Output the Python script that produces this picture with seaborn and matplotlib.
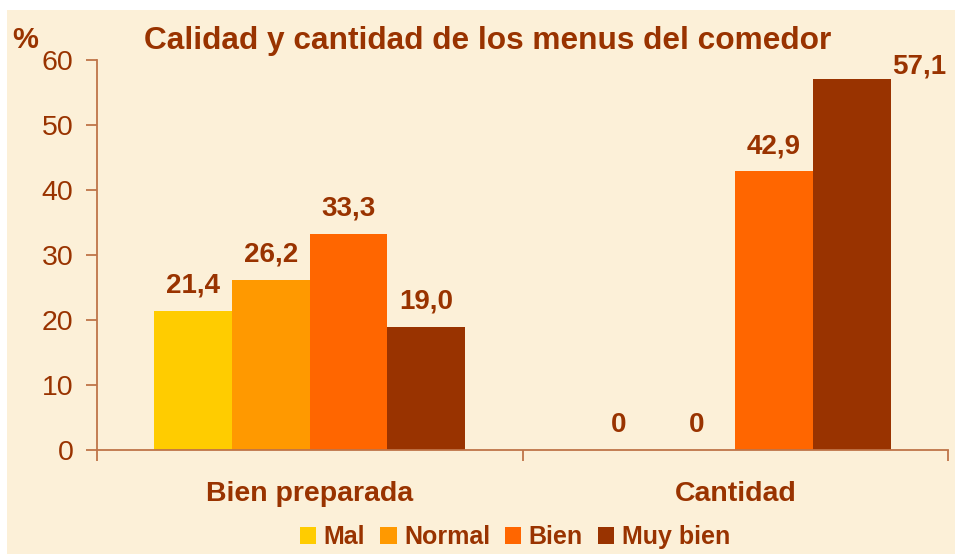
import matplotlib
matplotlib.use("Agg")
import matplotlib.pyplot as plt
import seaborn as sns
import pandas as pd
from matplotlib.patches import Rectangle

# ---- data ----
categories = ["Bien preparada", "Cantidad"]
ratings = ["Mal", "Normal", "Bien", "Muy bien"]
mal = [21.4, 0.0]
normal = [26.2, 0.0]
bien = [33.3, 42.9]
muy_bien = [19.0, 57.1]
title = "Calidad y cantidad de los menus del comedor"
y_ticks = [0, 10, 20, 30, 40, 50, 60]

colors = ["#FFCC00", "#FF9900", "#FF6600", "#993300"]
txt = "#993300"
axc = "#BF7448"
bg = "#FCF0D8"

rows = []
for r, vals in zip(ratings, [mal, normal, bien, muy_bien]):
    for c, v in zip(categories, vals):
        rows.append({"Aspecto": c, "Valoracion": r, "Porcentaje": v})
df = pd.DataFrame(rows)

sns.set_theme(style="white")
plt.rcParams["font.family"] = ["Liberation Sans", "DejaVu Sans"]

fig = plt.figure(figsize=(9.55, 5.54), dpi=100, facecolor="white")
fig.patches.append(Rectangle((7 / 955, 0), 1, (554 - 10) / 554,
                             transform=fig.transFigure, facecolor=bg,
                             edgecolor="none", zorder=-10))
ax = fig.add_axes([97 / 955, (554 - 450) / 554, (948 - 97) / 955, 390 / 554])
ax.set_facecolor("none")

sns.barplot(data=df, x="Aspecto", y="Porcentaje", hue="Valoracion",
            order=categories, hue_order=ratings, palette=colors,
            width=0.73, saturation=1, linewidth=0, edgecolor="none",
            ax=ax, legend=True)

handles, labels = ax.get_legend_handles_labels()
if ax.get_legend() is not None:
    ax.get_legend().remove()

ax.set_xlim(-0.5, 1.5)
ax.set_ylim(0, 60)
ax.set_yticks(y_ticks)
ax.set_xlabel("")
ax.set_ylabel("")

for s in ["top", "right"]:
    ax.spines[s].set_visible(False)
for s in ["left", "bottom"]:
    ax.spines[s].set_color(axc)
    ax.spines[s].set_linewidth(1.3)

ax.tick_params(axis="y", which="major", direction="out", length=8, width=1.3,
               color=axc, labelsize=20.5, labelcolor=txt, pad=9, left=True)
ax.set_xticks([0, 1])
ax.set_xticks([-0.5, 0.5, 1.5], minor=True)
ax.tick_params(axis="x", which="major", length=0, pad=22, labelsize=20.5,
               labelcolor=txt)
ax.tick_params(axis="x", which="minor", direction="out", length=8, width=1.3,
               color=axc, bottom=True)
for t in ax.get_xticklabels():
    t.set_fontweight("bold")

# value labels
for cont in ax.containers:
    for bar in cont:
        v = bar.get_height()
        lab = "0" if v == 0 else f"{v:.1f}".replace(".", ",")
        x = bar.get_x() + bar.get_width() / 2
        if v > 55:
            ax.annotate(lab, (bar.get_x() + bar.get_width(), v), xytext=(1, 4),
                        textcoords="offset points", ha="left", va="baseline",
                        fontsize=20, fontweight="bold", color=txt,
                        annotation_clip=False)
        else:
            ax.annotate(lab, (x, v), xytext=(0, 13), textcoords="offset points",
                        ha="center", va="baseline", fontsize=20,
                        fontweight="bold", color=txt, annotation_clip=False)

fig.text(0.5105, (554 - 41) / 554, title, ha="center", va="center",
         fontsize=22.8, fontweight="bold", color=txt)
fig.text(25 / 955, (554 - 40) / 554, "%", ha="center", va="center",
         fontsize=21, fontweight="bold", color=txt)

leg = fig.legend(handles, labels, loc="center", ncol=4,
                 bbox_to_anchor=(515 / 955, (554 - 537) / 554),
                 frameon=False, handlelength=0.65, handleheight=0.65,
                 handletextpad=0.3, columnspacing=0.6,
                 prop={"size": 18, "weight": "bold"})
for t in leg.get_texts():
    t.set_color(txt)
for h in leg.legend_handles:
    h.set_linewidth(0)

fig.savefig("out.png", dpi=100, facecolor="white")
